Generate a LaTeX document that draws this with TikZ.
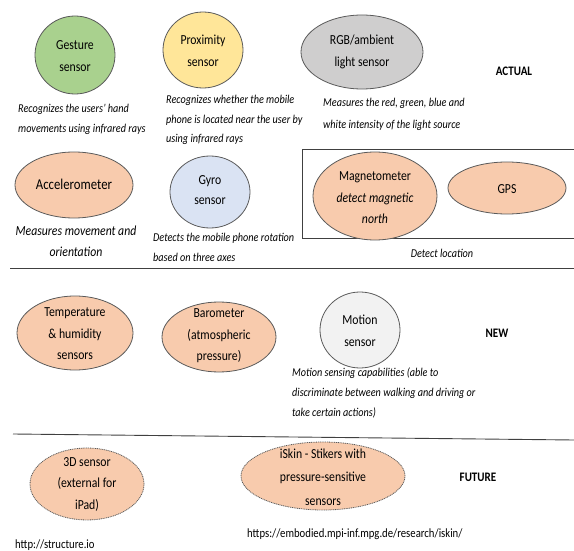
\documentclass[tikz,border=0pt]{standalone}
\usepackage{fontspec}
\setmainfont{Carlito}[FakeStretch=0.85]
\usetikzlibrary{shapes.geometric}
\definecolor{cgreen}{HTML}{A9D18E}
\definecolor{cyellow}{HTML}{FFE699}
\definecolor{cgray}{HTML}{CFCECE}
\definecolor{corange}{HTML}{F8CBAD}
\definecolor{cblue}{HTML}{DAE3F3}
\definecolor{clight}{HTML}{F2F2F2}
\definecolor{cstroke}{HTML}{5A5A5A}
\definecolor{cline}{HTML}{404040}
\tikzset{
  sensorshape/.style={ellipse, draw=cstroke, line width=0.8pt, inner sep=0pt},
  futureshape/.style={sensorshape, dash pattern=on 1pt off 0.8pt},
  lbl/.style={align=center, inner sep=0pt, font=\fontsize{13.8}{21.5}\selectfont},
  desc/.style={align=left, inner sep=0pt, anchor=north west, font=\fontsize{12}{19.5}\selectfont\itshape},
  tag/.style={inner sep=0pt, font=\fontsize{13}{15}\selectfont\bfseries},
  url/.style={inner sep=0pt, anchor=west, font=\fontsize{12.6}{15}\selectfont},
  sep/.style={draw=cline, line width=0.9pt}
}
\begin{document}
\begin{tikzpicture}[x=1pt,y=-1pt]
\useasboundingbox (0,0) rectangle (574,551);
% ACTUAL
\node[sensorshape, fill=cgreen, minimum width=80pt, minimum height=78pt] (gest) at (75,55) {};
\node[lbl] (gestl) at (75,56) {Gesture\\sensor};
\node[sensorshape, fill=cyellow, minimum width=80pt, minimum height=76pt] (prox) at (203,50) {};
\node[lbl] (proxl) at (203,51) {Proximity\\sensor};
\node[sensorshape, fill=cgray, minimum width=122pt, minimum height=74pt] (rgb) at (362,52) {};
\node[lbl] (rgbl) at (362,52) {RGB/ambient\\light sensor};
\node[tag] (actual) at (514,71) {ACTUAL};
\node[desc] (d1) at (18,104) {Recognizes the users’ hand\\movements using infrared rays};
\node[desc] (d2) at (166,95) {Recognizes whether the mobile\\phone is located near the user by\\using infrared rays};
\node[desc, font=\fontsize{12}{22}\selectfont\itshape] (d3) at (323,98) {Measures the red, green, blue and\\white intensity of the light source};

\node[sensorshape, fill=corange, minimum width=118pt, minimum height=66pt] (acc) at (74,185) {};
\node[lbl, font=\fontsize{15}{21.5}\selectfont] (accl) at (74,184) {Accelerometer};
\node[align=center, inner sep=0pt, anchor=north, font=\fontsize{13.8}{21}\selectfont\itshape] (d4) at (76,226) {Measures movement and\\orientation};
\node[sensorshape, fill=cblue, minimum width=80pt, minimum height=72pt] (gyro) at (210,192) {};
\node[lbl, font=\fontsize{13.8}{20.5}\selectfont] (gyrol) at (210,190) {Gyro\\sensor};
\node[desc, font=\fontsize{12}{19.5}\selectfont\itshape] (d5) at (153,233) {Detects the mobile phone rotation\\based on three axes};

\coordinate (boxtl) at (302,149);
\coordinate (boxbl) at (302,238);
\coordinate (boxtr) at (580,149);
\coordinate (boxbr) at (580,238);
\draw[draw=cline, line width=0.9pt] (boxtr) -- (boxtl) -- (boxbl) -- (boxbr);
\node[sensorshape, fill=corange, minimum width=124pt, minimum height=88pt] (mag) at (375,196) {};
\node[lbl] (magl) at (375,198) {Magnetometer\\\textit{detect magnetic}\\\textit{north}};
\node[sensorshape, fill=corange, minimum width=118pt, minimum height=52pt] (gps) at (507,188) {};
\node[lbl] (gpsl) at (507,189) {GPS};
\node[inner sep=0pt, font=\fontsize{12}{14}\selectfont\itshape] (d6) at (442,253) {Detect location};

\coordinate (l2a) at (10,268);
\coordinate (l2b) at (574,268);
\draw[sep] (l2a) -- (l2b);

% NEW
\node[sensorshape, fill=corange, minimum width=116pt, minimum height=74pt] (temp) at (75,333) {};
\node[lbl] (templ) at (75,334) {Temperature\\\& humidity\\sensors};
\node[sensorshape, fill=corange, minimum width=114pt, minimum height=70pt] (baro) at (219,337) {};
\node[lbl] (barol) at (219,336) {Barometer\\(atmospheric\\pressure)};
\node[sensorshape, fill=clight, minimum width=80pt, minimum height=76pt] (mot) at (360,330) {};
\node[lbl] (motl) at (360,331) {Motion\\sensor};
\node[tag] (new) at (497,333) {NEW};
\node[desc, font=\fontsize{12}{20}\selectfont\itshape] (d7) at (292,368) {Motion sensing capabilities (able to\\discriminate between walking and driving or\\take certain actions)};

\coordinate (l3a) at (13,434);
\coordinate (l3b) at (574,440);
\draw[sep] (l3a) -- (l3b);

% FUTURE
\node[futureshape, fill=corange, minimum width=114pt, minimum height=72pt] (s3d) at (87,484) {};
\node[lbl] (s3dl) at (87,484) {3D sensor\\(external for\\iPad)};
\node[futureshape, fill=corange, minimum width=164pt, minimum height=68pt] (iskin) at (323,476) {};
\node[lbl, font=\fontsize{13.8}{23.5}\selectfont] (iskinl) at (323,477) {iSkin - Stikers with\\pressure-sensitive\\sensors};
\node[tag] (future) at (478,477) {FUTURE};
\node[url] (u1) at (15,545) {http://structure.io};
\node[url] (u2) at (247,534) {https://embodied.mpi-inf.mpg.de/research/iskin/};
\end{tikzpicture}
\end{document}
